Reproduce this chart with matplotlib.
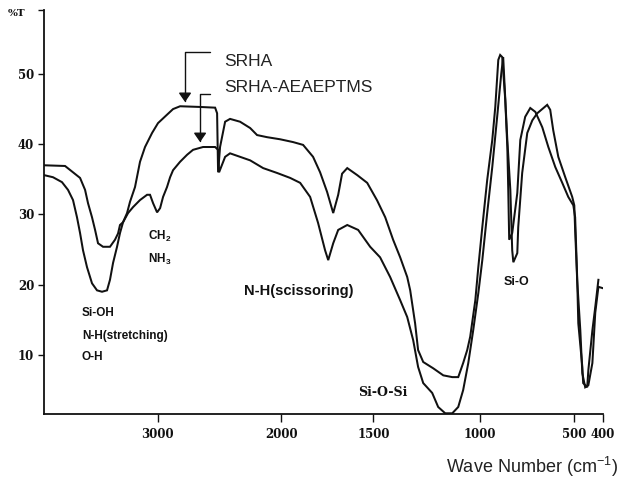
import numpy as np
import matplotlib
matplotlib.use("Agg")
import matplotlib.pyplot as plt

plt.rcParams['mathtext.fontset'] = 'custom'
plt.rcParams['mathtext.rm'] = 'Liberation Sans'
plt.rcParams['mathtext.bf'] = 'Liberation Sans:bold'
plt.rcParams['mathtext.it'] = 'Liberation Sans:italic'

# ---------------- data (wavenumber cm-1, %T) ----------------
srha_wn = [4000, 3815, 3745, 3683, 3639, 3613, 3578, 3551, 3525, 3481, 3420, 3376,
           3349, 3332, 3305, 3270, 3244, 3200, 3156, 3112, 3050, 2998, 2925, 2876,
           2819, 2657, 2535, 2519, 2511, 2495, 2454, 2414, 2333, 2251, 2195, 2114,
           2008, 1935, 1881, 1827, 1789, 1751, 1718, 1691, 1670, 1642, 1588, 1534,
           1483, 1445, 1408, 1375, 1342, 1328, 1305, 1291, 1267, 1220, 1173, 1131,
           1103, 1080, 1061, 1047, 1023, 1009, 989, 963, 936, 920, 904, 894, 883,
           867, 856, 851, 846, 830, 803, 787, 761, 734, 707, 670, 638, 601, 564,
           532, 505, 497, 490, 486, 472, 469, 455, 451, 437, 427, 416]
srha_t = [37.0, 36.9, 36.0, 35.2, 33.5, 31.6, 29.6, 27.8, 25.9, 25.4, 25.4, 26.4,
          27.3, 28.5, 28.9, 30.2, 31.8, 33.9, 37.5, 39.6, 41.6, 43.0, 44.2, 45.0,
          45.4, 45.3, 45.2, 44.4, 36.0, 39.6, 43.2, 43.6, 43.2, 42.3, 41.3, 41.0,
          40.7, 40.3, 39.9, 38.2, 36.0, 33.2, 30.2, 32.8, 35.8, 36.6, 35.6, 34.5,
          32.0, 29.6, 26.4, 23.9, 21.1, 19.2, 14.5, 10.7, 9.0, 8.1, 7.1, 6.85,
          6.85, 8.85, 10.7, 12.6, 17.8, 22.5, 28.2, 34.9, 40.6, 45.3, 52.0, 52.7, 52.4,
          46.3, 39.6, 33.5, 26.4, 27.35, 33.05, 40.6, 43.9, 45.15, 44.6, 42.4, 39.6, 36.75, 34.5,
          32.5, 31.3, 29.6, 21.1, 14.5, 8.3, 6.0, 5.4, 7.85, 13.5, 16.8, 20.7]

mod_wn = [4000, 3921, 3842, 3789, 3745, 3710, 3683, 3657, 3622, 3578, 3534, 3490,
          3446, 3420, 3393, 3358, 3332, 3305, 3261, 3217, 3156, 3094, 3068, 3041,
          3006, 2981, 2957, 2925, 2900, 2876, 2819, 2762, 2714, 2633, 2535, 2511,
          2503, 2454, 2414, 2251, 2146, 2032, 1951, 1897, 1843, 1800, 1762, 1745,
          1718, 1691, 1642, 1583, 1518, 1469, 1422, 1375, 1342, 1314, 1291, 1267,
          1225, 1197, 1164, 1131, 1103, 1080, 1056, 1033, 1009, 989, 963, 936, 910,
          888, 878, 856, 840, 830, 824, 803, 798, 777, 750, 723, 697, 644, 628, 612,
          585, 548, 511, 500, 497, 490, 479, 472, 462, 451, 437, 427, 416, 400]
mod_t = [35.6, 35.3, 34.6, 33.5, 32.05, 29.6, 27.35, 24.9, 22.5, 20.2, 19.2, 19.0,
         19.2, 20.7, 23.1, 25.4, 27.35, 28.9, 30.2, 31.05, 32.05, 32.8, 32.8, 31.6,
         30.3, 30.9, 32.5, 33.9, 35.3, 36.3, 37.5, 38.5, 39.2, 39.6, 39.6, 39.2,
         36.0, 38.2, 38.7, 37.7, 36.6, 35.9, 35.2, 34.5, 32.5, 28.8, 24.9, 23.5,
         25.9, 27.8, 28.5, 27.8, 25.4, 23.9, 21.1, 17.8, 15.4, 12.1, 8.3, 6.0,
         4.6, 2.6, 1.7, 1.7, 2.6, 5.0, 8.85, 13.5, 18.8, 23.5, 30.2, 36.75, 43.9,
         50.1, 52.4, 40.6, 33.5, 24.9, 23.2, 24.5, 28.2, 35.9, 41.6, 43.4, 44.4, 45.6, 44.9, 42.0,
         38.2, 35.3, 32.5, 31.3, 27.8, 20.7, 13.5, 7.4, 5.4, 5.7, 8.85, 16.0, 19.7, 19.5]

x_ticks = [3000, 2000, 1500, 1000, 500, 400]
y_ticks = [10, 20, 30, 40, 50]

# ---------------- piecewise (instrument) wavenumber scale ----------------
W_KNOTS = np.array([0, 400, 500, 1000, 1500, 2000, 3000, 4000, 10000], dtype=float)
P_KNOTS = np.array([717.5, 602.7, 574, 480, 373.3, 281, 157.7, 44, -638], dtype=float)


def fwd(w):
    return -np.interp(np.asarray(w, dtype=float), W_KNOTS, P_KNOTS)


def inv(q):
    return np.interp(-np.asarray(q, dtype=float), P_KNOTS[::-1], W_KNOTS[::-1])


W, H = 623, 480
fig = plt.figure(figsize=(W / 100, H / 100), dpi=100)
ax = fig.add_axes([44 / W, 1 - 414 / H, (603 - 44) / W, (414 - 10) / H])
ax.set_xscale('function', functions=(fwd, inv))

line_kw = dict(color='#111111', lw=1.45, solid_joinstyle='miter')
ax.plot(srha_wn, srha_t, **line_kw)
ax.plot(mod_wn, mod_t, **line_kw)

ymin, ymax = 1.6, 59.1
ax.set_xlim(4000, 400)
ax.set_ylim(ymin, ymax)

for s in ['top', 'right']:
    ax.spines[s].set_visible(False)
for s in ['left', 'bottom']:
    ax.spines[s].set_linewidth(1.3)
    ax.spines[s].set_color('#111111')

tick_font = dict(family='DejaVu Serif', weight='bold', size=8.5)
ax.set_xticks(x_ticks)
ax.set_xticklabels([str(v) for v in x_ticks], fontdict=tick_font)
ax.set_yticks(y_ticks + [ymax])
ax.set_yticklabels([str(v) for v in y_ticks] + [''], fontdict=tick_font)
ax.tick_params(axis='x', direction='out', length=6, width=1.0, pad=4, colors='#111111')
ax.tick_params(axis='y', direction='out', length=4, width=1.0, pad=3, colors='#111111')
ax.xaxis.set_minor_locator(matplotlib.ticker.NullLocator())
ax.yaxis.set_minor_locator(matplotlib.ticker.NullLocator())

# arrows to the curves
arrow_kw = dict(arrowstyle='-|>,head_length=0.55,head_width=0.38', color='#111111', lw=1.0,
                shrinkA=0, shrinkB=0, mutation_scale=10,
                connectionstyle='angle,angleA=0,angleB=90,rad=0')
ax.annotate('', xy=(2779, 46.0), xytext=(2576, 53.1), arrowprops=arrow_kw)
ax.annotate('', xy=(2657, 40.3), xytext=(2576, 47.1), arrowprops=arrow_kw)


def ftext(x, y, s, **kw):
    fig.text(x / W, 1 - y / H, s, va='center', ha='left', **kw)


ftext(8, 14, '%T', family='DejaVu Serif', weight='bold', size=7.5, color='#111111')
ftext(224, 61, 'SRHA', family='Liberation Sans', size=12.5, color='#222222')
ftext(224, 88, 'SRHA-AEAEPTMS', family='Liberation Sans', size=12.5, color='#222222')

bold_sans = dict(family='Liberation Sans', weight='bold', color='#111111')
ftext(148, 236, r'CH$_\mathbf{2}$', size=8.5, **bold_sans)
ftext(148, 259, r'NH$_\mathbf{3}$', size=8.5, **bold_sans)
ftext(82, 313, 'Si-OH', size=8.5, **bold_sans)
ftext(82, 336, 'N-H(stretching)', size=8.5, **bold_sans)
ftext(82, 357, 'O-H', size=8.5, **bold_sans)
ftext(244, 291, 'N-H(scissoring)', size=10.5, **bold_sans)
ftext(504, 282, 'Si-O', size=9, **bold_sans)
ftext(358, 392, 'Si-O-Si', family='DejaVu Serif', weight='bold', size=9, color='#111111')
ftext(446, 467, r'Wave Number ($\mathregular{cm^{-1}}$)', family='Liberation Sans', size=13,
      color='#222222')

fig.savefig('out.png', dpi=100)
